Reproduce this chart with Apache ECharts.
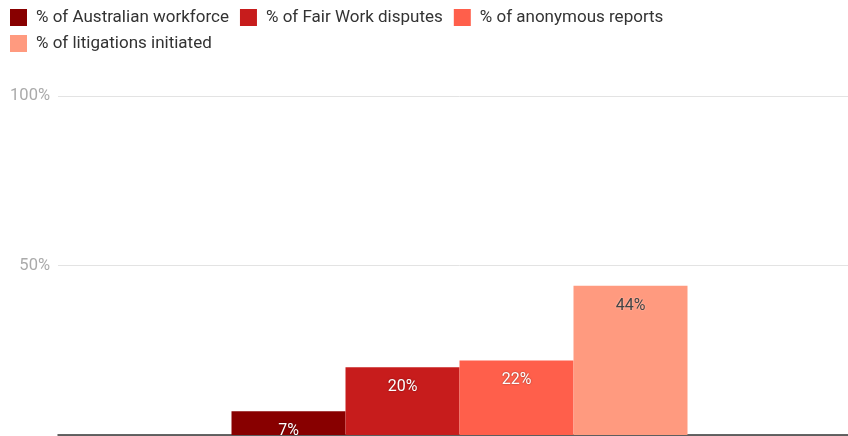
<!DOCTYPE html>
<html><head><meta charset="utf-8">
<script src="https://cdn.jsdelivr.net/npm/echarts@6/dist/echarts.min.js"></script>
<style>html,body{margin:0;padding:0;background:#fff;overflow:hidden}#c{width:861px;height:436px}</style>
</head><body><div id="c"></div>
<script>
const categories = [''];
const seriesNames = ['% of Australian workforce', '% of Fair Work disputes', '% of anonymous reports', '% of litigations initiated'];
const seriesValues = [[7], [20], [22], [44]];
const yTicks = [0, 50, 100];
const colors = ['#880000', '#C71C1C', '#FF5F4B', '#FF9A7F'];
const labelColors = ['#ffffff', '#ffffff', '#ffffff', '#444444'];

const chart = echarts.init(document.getElementById('c'), null, {renderer: 'canvas'});
const legendText = {fontFamily: 'Roboto', fontSize: 17, color: '#333', padding: [0, 0, 0, 4]};
chart.setOption({
  animation: false,
  color: colors,
  legend: [
    {data: seriesNames.slice(0, 3), left: 10, top: 9, itemWidth: 17, itemHeight: 17, itemGap: 11, icon: 'rect', textStyle: legendText, padding: 0},
    {data: seriesNames.slice(3), left: 10, top: 35, itemWidth: 17, itemHeight: 17, itemGap: 11, icon: 'rect', textStyle: legendText, padding: 0}
  ],
  grid: {left: 58, right: 0, top: 96, bottom: 1, containLabel: false},
  xAxis: {type: 'category', data: categories, axisTick: {show: false}, axisLabel: {show: false},
    axisLine: {lineStyle: {color: '#333', width: 1.5}}},
  yAxis: {type: 'value', min: yTicks[0], max: yTicks[yTicks.length - 1], interval: 50,
    axisLabel: {formatter: v => v === 0 ? '' : v + '%', fontFamily: 'Roboto', fontSize: 16.5, color: '#aaaaaa', margin: 8},
    splitLine: {lineStyle: {color: '#e3e3e3'}}, axisLine: {show: false}, axisTick: {show: false}},
  series: seriesNames.map((n, i) => ({
    name: n, type: 'bar', data: seriesValues[i], barWidth: 114, barGap: '0%',
    itemStyle: {color: colors[i]},
    label: {show: true, position: 'insideTop', distance: 12, formatter: p => p.value + '%',
      fontFamily: 'Roboto', fontSize: 16, color: labelColors[i],
      textShadowColor: i < 3 ? 'rgba(0,0,0,0.45)' : 'rgba(255,255,255,0.5)', textShadowBlur: 2}
  }))
});
</script></body></html>
